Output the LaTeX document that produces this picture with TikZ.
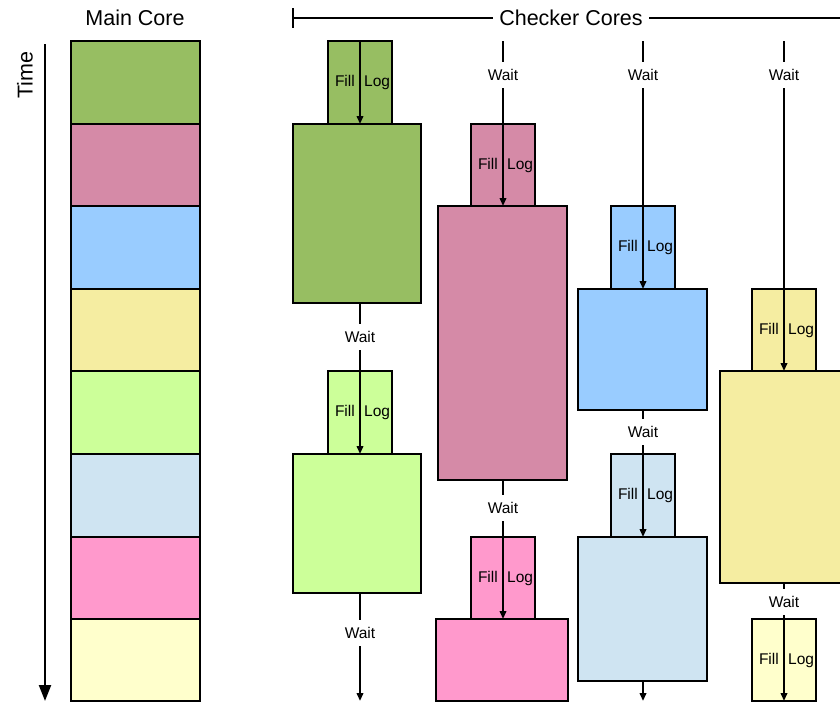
\documentclass[tikz,border=0pt]{standalone}
\usepackage{fontspec}
\setmainfont{Liberation Sans}
\usetikzlibrary{arrows.meta}

\definecolor{cgreen}{HTML}{97BE62}
\definecolor{cmauve}{HTML}{D58AA7}
\definecolor{cblue}{HTML}{99CCFF}
\definecolor{cstraw}{HTML}{F5EDA1}
\definecolor{clime}{HTML}{CCFF99}
\definecolor{cpale}{HTML}{CFE4F2}
\definecolor{cpink}{HTML}{FF99CC}
\definecolor{ccream}{HTML}{FFFFCC}

% slab{name}{x1}{y1}{x2}{y2}{colour}: a filled time slice
\newcommand\slab[6]{%
  \node[slabbox, fill=#6, minimum width={#4-#2}, minimum height={#5-#3}]
    (#1) at ({(#2+#4)/2},{(#3+#5)/2}) {};}
% filllog{name}: the Fill / Log labels and the arrow through a log slice
\newcommand\filllog[1]{%
  \node[small, anchor=east] (#1-fill) at ([xshift=-5pt]#1.center) {Fill};
  \node[small, anchor=west] (#1-log) at ([xshift=4pt]#1.center) {Log};
  \draw[flow] (#1.north) -- (#1.south);}

\tikzset{
  slabbox/.style={draw=black, line width=2.7pt, inner sep=0pt, outer sep=0pt},
  small/.style={font=\fontsize{15.5}{18}\selectfont, text height=11.5pt, text depth=3pt, inner sep=0pt},
  waitlbl/.style={font=\fontsize{15.5}{18}\selectfont, text height=11pt, text depth=0pt, inner xsep=0pt, inner ysep=7.5pt},
  hdr/.style={font=\fontsize{21.5}{24}\selectfont, inner xsep=6.5pt, inner ysep=0pt},
  link/.style={line width=2.3pt},
  flow/.style={line width=2.3pt, -{Triangle[width=6.5pt,length=8pt]}},
}

\begin{document}
\begin{tikzpicture}[x=1pt, y=-1pt]
\useasboundingbox (0,0) rectangle (840,702);
\clip (0,0) rectangle (840,702);

% headings
\node[hdr] (mainhdr) at (135,18) {Main Core};
\node[hdr] (chkhdr) at (571,18) {Checker Cores};
\coordinate (brL) at (293,18);
\coordinate (brT) at (293,8);
\coordinate (brB) at (293,28);
\coordinate (brR) at (840,18);
\draw[link] (brT) -- (brB);
\draw[link] (brL) -- (chkhdr.west);
\draw[link] (chkhdr.east) -- (brR);

% time axis
\node[hdr, rotate=90, inner sep=0pt] (time) at (25,75) {Time};
\coordinate (tS) at (45,44);
\coordinate (tE) at (45,701);
\draw[line width=2.3pt, -{Triangle[width=12pt,length=16pt]}] (tS) -- (tE);

% main core
\slab{m1}{71}{41}{200}{124}{cgreen}
\slab{m2}{71}{124}{200}{206}{cmauve}
\slab{m3}{71}{206}{200}{289}{cblue}
\slab{m4}{71}{289}{200}{371}{cstraw}
\slab{m5}{71}{371}{200}{454}{clime}
\slab{m6}{71}{454}{200}{537}{cpale}
\slab{m7}{71}{537}{200}{619}{cpink}
\slab{m8}{71}{619}{200}{701}{ccream}

% checker core 1
\slab{a1}{328}{41}{392}{124}{cgreen}
\slab{a2}{293}{124}{421}{303}{cgreen}
\slab{a3}{328}{371}{392}{454}{clime}
\slab{a4}{293}{454}{421}{593}{clime}
\filllog{a1}
\filllog{a3}
\node[waitlbl] (aw1) at (360,337) {Wait};
\draw[link] (aw1 |- a2.south) -- (aw1);
\draw[link] (aw1) -- (a3.north);
\node[waitlbl] (aw2) at (360,633) {Wait};
\coordinate (aE) at (360,701);
\draw[link] (aw2 |- a4.south) -- (aw2);
\draw[flow] (aw2) -- (aE);

% checker core 2
\slab{b1}{471}{124}{535}{206}{cmauve}
\slab{b2}{438}{206}{567}{480}{cmauve}
\slab{b3}{471}{537}{535}{619}{cpink}
\slab{b4}{436}{619}{568}{701}{cpink}
\coordinate (bT) at (503,41);
\node[waitlbl] (bw0) at (503,75) {Wait};
\draw[link] (bT) -- (bw0);
\draw[link] (bw0) -- (b1.north);
\filllog{b1}
\filllog{b3}
\node[waitlbl] (bw1) at (503,508) {Wait};
\draw[link] (bw1 |- b2.south) -- (bw1);
\draw[link] (bw1) -- (b3.north);

% checker core 3
\slab{c1}{611}{206}{675}{289}{cblue}
\slab{c2}{578}{289}{707}{410}{cblue}
\slab{c3}{611}{454}{675}{537}{cpale}
\slab{c4}{578}{537}{707}{681}{cpale}
\coordinate (cT) at (643,41);
\node[waitlbl] (cw0) at (643,75) {Wait};
\draw[link] (cT) -- (cw0);
\draw[link] (cw0) -- (c1.north);
\filllog{c1}
\filllog{c3}
\node[waitlbl] (cw1) at (643,432) {Wait};
\draw[link] (cw1 |- c2.south) -- (cw1);
\draw[link] (cw1) -- (c3.north);
\coordinate (cE) at (643,701);
\draw[flow] (cE |- c4.south) -- (cE);

% checker core 4
\slab{d1}{752}{289}{816}{371}{cstraw}
\slab{d2}{720}{371}{852}{583}{cstraw}
\slab{d3}{752}{619}{816}{701}{ccream}
\coordinate (dT) at (784,41);
\node[waitlbl] (dw0) at (784,75) {Wait};
\draw[link] (dT) -- (dw0);
\draw[link] (dw0) -- (d1.north);
\filllog{d1}
\filllog{d3}
\node[waitlbl] (dw1) at (784,602) {Wait};
\draw[link] (dw1 |- d2.south) -- (dw1);
\draw[link] (dw1) -- (d3.north);
\end{tikzpicture}
\end{document}
